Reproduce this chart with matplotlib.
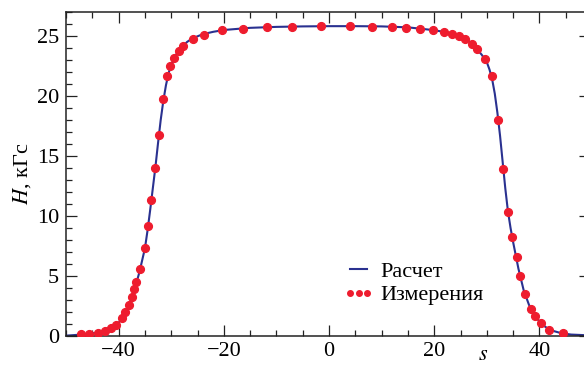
import matplotlib
matplotlib.use("Agg")
import matplotlib.pyplot as plt
from matplotlib.lines import Line2D
from matplotlib.ticker import MultipleLocator

plt.rcParams['font.family'] = ['Liberation Serif', 'DejaVu Serif']
plt.rcParams['mathtext.fontset'] = 'stix'

# Calculated curve
calc_s = [-50, -47, -45, -43, -42, -41, -40, -39, -38, -37, -36, -35, -34.5, -34,
          -33.5, -33, -32.5, -32, -31.5, -31, -30.5, -30, -29, -28, -27, -26, -24,
          -22, -20, -15, -10, -5, 0, 5, 10, 15, 18, 20, 22, 24, 25, 26, 27, 28, 29,
          30, 30.5, 31, 31.5, 32, 32.5, 33, 33.5, 34, 34.5, 35, 36, 37, 38, 39, 40,
          41, 42, 44, 46, 49.6]
calc_H = [0.03, 0.12, 0.22, 0.35, 0.5, 0.75, 1.1, 1.65, 2.55, 3.8, 5.4, 7.3, 8.8, 10.5,
          12.3, 14.1, 16.1, 18.0, 19.6, 20.9, 21.9, 22.6, 23.5, 24.05, 24.5, 24.8, 25.15,
          25.35, 25.5, 25.68, 25.76, 25.8, 25.82, 25.82, 25.8, 25.72, 25.58, 25.48, 25.33,
          25.1, 24.95, 24.75, 24.4, 23.95, 23.45, 22.8, 22.2, 21.4, 20.2, 18.6, 16.7, 14.5,
          12.3, 10.4, 9.0, 7.8, 5.6, 3.8, 2.6, 1.75, 1.2, 0.8, 0.5, 0.25, 0.12, 0.05]

# Measurements
meas_s = [-47.1, -45.6, -43.9, -42.5, -41.4, -40.5, -39.4, -38.7, -38.1, -37.4, -37.0,
          -36.6, -35.9, -35.0, -34.4, -33.75, -33.0, -32.4, -31.5, -30.8, -30.3, -29.4,
          -28.5, -27.7, -25.8, -23.7, -20.3, -16.3, -11.7, -7.0, -1.5, 4.0, 8.1, 12.0,
          14.7, 17.2, 19.8, 21.8, 23.3, 24.7, 25.9, 27.1, 28.2, 29.7, 31.0, 32.2, 33.1,
          34.0, 34.8, 35.65, 36.3, 37.2, 38.4, 39.1, 40.3, 41.85, 44.4]
meas_H = [0.14, 0.2, 0.28, 0.45, 0.67, 0.92, 1.47, 2.0, 2.56, 3.28, 3.92,
          4.47, 5.58, 7.3, 9.17, 11.3, 14.0, 16.75, 19.75, 21.7, 22.5, 23.2,
          23.75, 24.2, 24.75, 25.1, 25.47, 25.6, 25.78, 25.78, 25.8, 25.83, 25.78, 25.78,
          25.7, 25.58, 25.5, 25.36, 25.2, 25.0, 24.75, 24.36, 23.9, 23.1, 21.7, 17.97, 13.9,
          10.36, 8.25, 6.56, 5.0, 3.5, 2.25, 1.7, 1.06, 0.5, 0.22]

line_color = '#2a3190'
dot_color = '#ee1c2e'
FS = 16

fig = plt.figure(figsize=(5.84, 3.65), dpi=100)
# right spine lies just outside the picture (only tick ends are visible)
ax = fig.add_axes([66 / 584, 1 - 336 / 365, (590 - 66) / 584, (336 - 12) / 365])

ax.plot(calc_s, calc_H, color=line_color, lw=1.5, zorder=2)
ax.plot(meas_s, meas_H, 'o', color=dot_color, ms=5.6, mec=dot_color, zorder=3)

ax.set_xlim(-50, 49.6)
ax.set_ylim(0, 27)
ax.xaxis.set_major_locator(MultipleLocator(20))
ax.xaxis.set_minor_locator(MultipleLocator(5))
ax.yaxis.set_major_locator(MultipleLocator(5))
ax.yaxis.set_minor_locator(MultipleLocator(1))
ax.tick_params(which='both', direction='in', top=True, right=True, width=0.9,
               labelsize=FS, color='#222222')
ax.tick_params(which='major', length=8)
ax.tick_params(which='minor', length=4.5)
ax.tick_params(axis='x', pad=4)
ax.tick_params(axis='y', pad=5)
for sp in ax.spines.values():
    sp.set_linewidth(1.1)
    sp.set_color('#222222')

ax.set_xticks([-40, -20, 0, 20, 40])
ax.set_xticklabels(['\u221240', '\u221220', '0', '20', '40'])

ax.set_ylabel(r'$H$, кГс', fontsize=FS, labelpad=3)
fig.text(483 / 584, 0.0, r'$s$', fontsize=FS, ha='center', va='bottom')

handles = [Line2D([], [], color=line_color, lw=1.5),
           Line2D([], [], ls='none', marker='o', color=dot_color, ms=4)]
ax.legend(handles, ['Расчет', 'Измерения'], loc='center left',
          bbox_to_anchor=(0.530, 0.163), frameon=False, fontsize=FS,
          numpoints=3, handlelength=1.35, handletextpad=0.3, labelspacing=0.15,
          borderpad=0, borderaxespad=0)

fig.savefig('out.png', dpi=100)
